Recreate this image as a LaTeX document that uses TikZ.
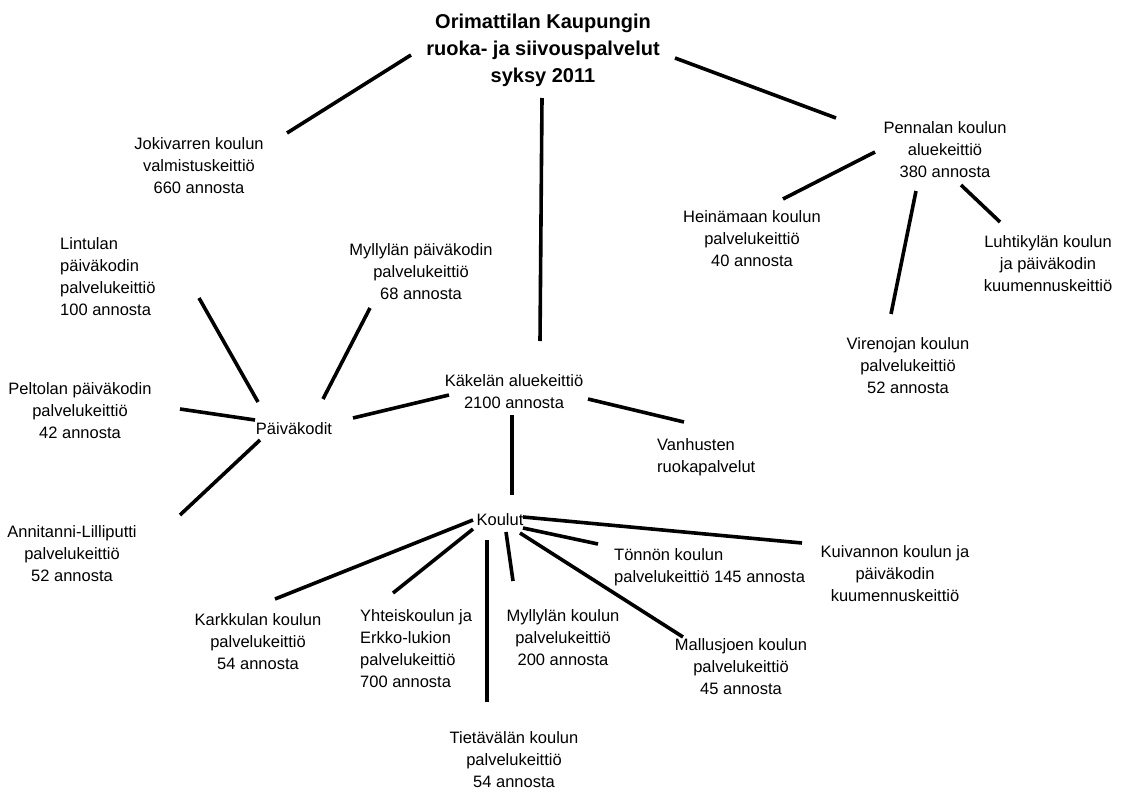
\documentclass[tikz,border=0pt]{standalone}
\usepackage{fontspec}
\setmainfont{Liberation Sans}
\usepackage{tikz}
\usetikzlibrary{positioning}

\tikzset{
  lbl/.style={inner sep=0pt, align=center, font=\fontsize{16.5}{22}\selectfont},
  lblleft/.style={lbl, align=left, anchor=west},
  link/.style={line width=3.6pt}
}

\begin{document}
\begin{tikzpicture}[x=1pt, y=-1pt]
                  \useasboundingbox (0,0) rectangle (1124,792);

                  \node[lbl, font=\fontsize{20}{27}\selectfont\bfseries] (title) at (543,50) {Orimattilan Kaupungin\\ruoka- ja siivouspalvelut\\syksy 2011};
                  \node[lbl] (jok) at (199,166) {Jokivarren koulun\\valmistuskeittiö\\660 annosta};
                  \node[lbl] (pen) at (945,150) {Pennalan koulun\\aluekeittiö\\380 annosta};
                  \node[lbl] (hei) at (752,239) {Heinämaan koulun\\palvelukeittiö\\40 annosta};
                  \node[lbl] (luh) at (1048,264) {Luhtikylän koulun\\ja päiväkodin\\kuumennuskeittiö};
                  \node[lbl] (vir) at (908,366) {Virenojan koulun\\palvelukeittiö\hspace*{24pt}\\52 annosta};
                  \node[lblleft] (lin) at (60,277) {Lintulan\\päiväkodin\\palvelukeittiö\\100 annosta};
                  \node[lbl] (myp) at (421,272) {Myllylän päiväkodin\\palvelukeittiö\\68 annosta};
                  \node[lbl] (pel) at (80,411) {Peltolan päiväkodin\\palvelukeittiö\\42 annosta};
                  \node[lbl] (pvk) at (294,429) {Päiväkodit};
                  \node[lbl] (ann) at (72,554) {Annitanni-Lilliputti\\palvelukeittiö\\52 annosta};
                  \node[lbl] (kak) at (514,392) {Käkelän aluekeittiö\\2100 annosta};
                  \node[lblleft] (van) at (657,457) {Vanhusten\\ruokapalvelut};
                  \node[lbl] (kou) at (500,520) {Koulut};
                  \node[lbl] (kar) at (258,642) {Karkkulan koulun\\palvelukeittiö\\54 annosta};
                  \node[lblleft] (yht) at (360,649) {Yhteiskoulun ja\\Erkko-lukion\\palvelukeittiö\\700 annosta};
                  \node[lbl] (myk) at (563,638) {Myllylän koulun\\palvelukeittiö\\200 annosta};
                  \node[lbl] (tie) at (514,760) {Tietävälän koulun\\palvelukeittiö\\54 annosta};
                  \node[lblleft] (ton) at (614,567) {Tönnön koulun\\palvelukeittiö 145 annosta};
                  \node[lbl] (kui) at (895,574) {Kuivannon koulun ja\\päiväkodin\\kuumennuskeittiö};
                  \node[lbl] (mal) at (741,667) {Mallusjoen koulun\\palvelukeittiö\\45 annosta};

                  \coordinate (title-jok) at (411,55);   \coordinate (jok-title) at (287,133);
                  \coordinate (title-pen) at (675,58);   \coordinate (pen-title) at (836,118);
                  \coordinate (title-kak) at (542,98);   \coordinate (kak-title) at (540,341);
                  \coordinate (pen-hei) at (875,152);    \coordinate (hei-pen) at (783,199);
                  \coordinate (pen-vir) at (916,191);    \coordinate (vir-pen) at (891,314);
                  \coordinate (pen-luh) at (961,185);    \coordinate (luh-pen) at (1000,222);
                  \coordinate (lin-pvk) at (199,298);    \coordinate (pvk-lin) at (258,402);
                  \coordinate (myp-pvk) at (370,308);    \coordinate (pvk-myp) at (323,399);
                  \coordinate (pel-pvk) at (180,409);    \coordinate (pvk-pel) at (255,420);
                  \coordinate (ann-pvk) at (180,515);    \coordinate (pvk-ann) at (260,440);
                  \coordinate (kak-pvk) at (449,395);    \coordinate (pvk-kak) at (353,418);
                  \coordinate (kak-van) at (588,399);    \coordinate (van-kak) at (684,422);
                  \coordinate (kak-kou) at (512,415);    \coordinate (kou-kak) at (512,495);
                  \coordinate (kou-kar) at (473,520);    \coordinate (kar-kou) at (275,599);
                  \coordinate (kou-yht) at (473,529);    \coordinate (yht-kou) at (393,593);
                  \coordinate (kou-tie) at (487,540);    \coordinate (tie-kou) at (487,702);
                  \coordinate (kou-myk) at (506,532);    \coordinate (myk-kou) at (513,581);
                  \coordinate (kou-mal) at (520,533);    \coordinate (mal-kou) at (683,637);
                  \coordinate (kou-ton) at (523,528);    \coordinate (ton-kou) at (598,544);
                  \coordinate (kou-kui) at (523,517);    \coordinate (kui-kou) at (802,543);

                  \draw[link] (title-jok) -- (jok-title);
                  \draw[link] (title-pen) -- (pen-title);
                  \draw[link] (title-kak) -- (kak-title);
                  \draw[link] (pen-hei) -- (hei-pen);
                  \draw[link] (pen-vir) -- (vir-pen);
                  \draw[link] (pen-luh) -- (luh-pen);
                  \draw[link] (lin-pvk) -- (pvk-lin);
                  \draw[link] (myp-pvk) -- (pvk-myp);
                  \draw[link] (pel-pvk) -- (pvk-pel);
                  \draw[link] (ann-pvk) -- (pvk-ann);
                  \draw[link] (kak-pvk) -- (pvk-kak);
                  \draw[link] (kak-van) -- (van-kak);
                  \draw[link] (kak-kou) -- (kou-kak);
                  \draw[link] (kou-kar) -- (kar-kou);
                  \draw[link] (kou-yht) -- (yht-kou);
                  \draw[link] (kou-tie) -- (tie-kou);
                  \draw[link] (kou-myk) -- (myk-kou);
                  \draw[link] (kou-mal) -- (mal-kou);
                  \draw[link] (kou-ton) -- (ton-kou);
                  \draw[link] (kou-kui) -- (kui-kou);
              \end{tikzpicture}
\end{document}
